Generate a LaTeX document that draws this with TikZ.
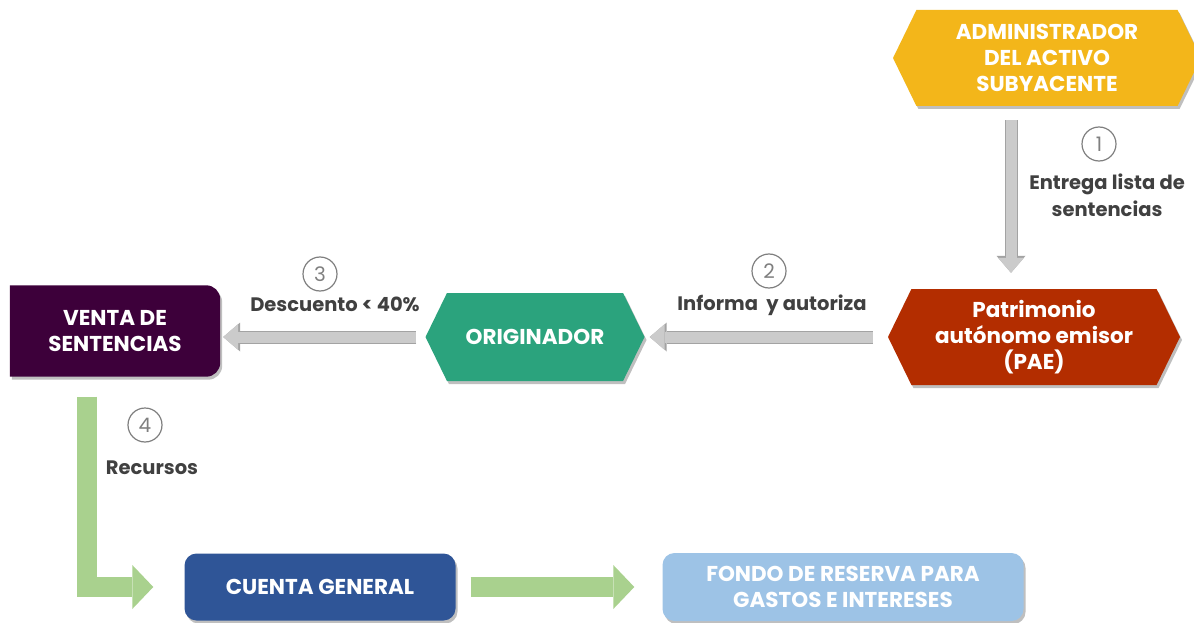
\documentclass[tikz,border=0pt]{standalone}
\usepackage{fontspec}
\setmainfont{Poppins}
\usetikzlibrary{shapes.symbols,shadows,arrows.meta,backgrounds}

\definecolor{adminyellow}{HTML}{F3B61A}
\definecolor{paered}{HTML}{B32D00}
\definecolor{origgreen}{HTML}{2BA37D}
\definecolor{ventapurple}{HTML}{3D003A}
\definecolor{cuentablue}{HTML}{2F5597}
\definecolor{fondoblue}{HTML}{9DC3E6}
\definecolor{arrowgray}{HTML}{CBCBCB}
\definecolor{arrowedge}{HTML}{A3A3A3}
\definecolor{arrowgreen}{HTML}{A9D18E}
\definecolor{labelgray}{HTML}{404040}
\definecolor{circgray}{HTML}{7F7F7F}

\begin{document}
\begin{tikzpicture}[x=1pt,y=-1pt,
    boxshadow/.style={drop shadow={shadow xshift=2pt,shadow yshift=-3pt,opacity=.25,fill=black}},
    boxtext/.style={text=white,align=center,inner sep=0pt,font=\bfseries\fontsize{21.5}{26}\selectfont},
    hexa/.style={signal,signal to=west and east,signal pointer angle=128,boxtext,boxshadow},
    card/.style={rectangle,rounded corners=12pt,boxtext,boxshadow},
    grayarrow/.style={draw=arrowgray,line width=11pt,-{Triangle[width=26pt,length=15pt,line width=0pt]},
      preaction={draw=arrowedge,line width=13pt,-{Triangle[width=29pt,length=17pt,line width=0pt]}}},
    greenarrow/.style={draw=arrowgreen,line width=20pt,line join=miter,-{Triangle[width=44pt,length=21pt,line width=0pt]}},
    stepnum/.style={circle,draw=circgray,line width=1.2pt,minimum size=34pt,inner sep=0pt,text=circgray,font=\fontsize{20}{20}\selectfont},
    steplabel/.style={text=labelgray,align=center,inner sep=0pt,font=\bfseries\fontsize{19.5}{27}\selectfont}]

  \useasboundingbox (0,0) rectangle (1194,623);

  \begin{scope}[every node/.style={hexa}]
    \node[fill=adminyellow,minimum width=308pt,minimum height=96pt] (admin) at (1047,58) {ADMINISTRADOR\\DEL ACTIVO\\SUBYACENTE};
    \node[fill=paered,minimum width=292pt,minimum height=96pt] (pae) at (1034,337) {Patrimonio\\autónomo emisor\\(PAE)};
    \node[fill=origgreen,minimum width=219pt,minimum height=88pt] (orig) at (535,337) {ORIGINADOR};
  \end{scope}

  \node[boxtext,minimum width=210pt,minimum height=91pt] (venta) at (115,331) {VENTA DE\\SENTENCIAS};
  \begin{scope}[on background layer]
    \fill[ventapurple,boxshadow] (venta.south west) -- (venta.north west)
      {[rounded corners=14pt] -- (venta.north east) -- (venta.south east)} -- cycle;
  \end{scope}

  \begin{scope}[every node/.style={card}]
    \node[fill=cuentablue,minimum width=271pt,minimum height=67pt] (cuenta) at (320,587) {CUENTA GENERAL};
    \node[fill=fondoblue,minimum width=361pt,minimum height=68pt] (fondo) at (843,587) {FONDO DE RESERVA PARA\\GASTOS E INTERESES};
  \end{scope}

  \path[grayarrow,shorten <=14pt,shorten >=16pt] ([xshift=-36pt]admin.south) -- ([xshift=-36pt]admin.south |- pae.north);
  \path[grayarrow,shorten <=15pt,shorten >=5pt] (pae.west) -- (orig.east);
  \path[grayarrow,shorten <=9pt,shorten >=3pt] (orig.west) -- (orig.west -| venta.east);
  \path[greenarrow,shorten <=20pt,shorten >=31pt] ([xshift=-28pt]venta.south) |- (cuenta.west);
  \path[greenarrow,shorten <=15pt,shorten >=28pt] (cuenta.east) -- (fondo.west);

  \begin{scope}[every node/.style={stepnum}]
    \node (n1) at (1099,144) {1};
    \node (n2) at (769,271) {2};
    \node (n3) at (320,274) {3};
    \node (n4) at (145,425) {4};
  \end{scope}

  \begin{scope}[every node/.style={steplabel}]
    \node (l1) at (1107,195) {Entrega lista de\\sentencias};
    \node (l2) at (772,305) {Informa\ \ y autoriza};
    \node (l3) at (335,304) {Descuento < 40\%};
    \node (l4) at (152,468) {Recursos};
  \end{scope}

\end{tikzpicture}
\end{document}
